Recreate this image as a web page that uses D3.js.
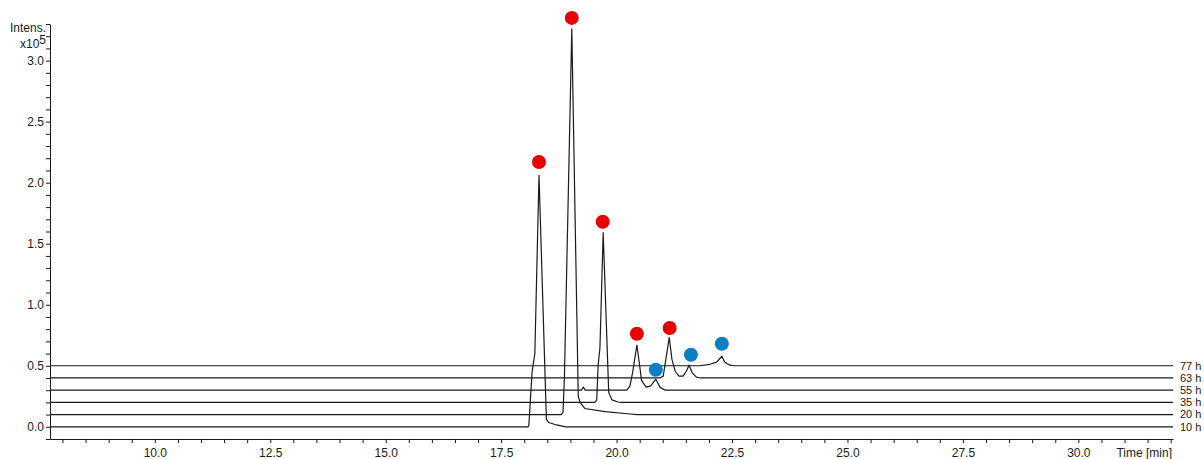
<!DOCTYPE html>
<html>
<head>
<meta charset="utf-8">
<script src="https://cdn.jsdelivr.net/npm/d3@7"></script>
<style>
  html, body { margin: 0; padding: 0; background: #fff; }
  svg { display: block; font-family: "Liberation Sans", Arial, sans-serif; }
</style>
</head>
<body>
<svg id="chart" width="1204" height="459"></svg>
<script>
// ---- data (intensity in units of 1e5, time in min) ----
const traceLabels = ["10 h", "20 h", "35 h", "55 h", "63 h", "77 h"];
const traceOffsets = [0, 0.1, 0.2, 0.3, 0.4, 0.5];

// peak points [time, intensity above the trace's own baseline]
const peaks10h = [[18.08,0],[18.10,0.01],[18.17,0.45],[18.23,0.6],[18.32,2.06],[18.48,0.06],[18.53,0.035],[18.70,0.015],[18.90,0]];
const peaks20h = [[18.80,0],[18.84,0.02],[18.87,0.3],[19.03,3.16],[19.17,0.15],[19.21,0.1],[19.31,0.05],[19.75,0.025],[20.29,0.005],[20.45,0]];
const peaks35h = [[19.53,0],[19.57,0.02],[19.60,0.3],[19.64,0.45],[19.71,1.39],[19.83,0.08],[19.90,0.02],[20.03,0.003],[20.10,0]];
const peaks55h = [[19.24,0],[19.28,0.025],[19.32,0],[20.22,0],[20.29,0.035],[20.35,0.15],[20.44,0.37],[20.50,0.2],[20.54,0.08],[20.64,0.025],[20.74,0.035],[20.85,0.09],[20.94,0.025],[21.05,0]];
const peaks63h = [[20.94,0],[21.01,0.015],[21.07,0.16],[21.14,0.33],[21.20,0.15],[21.27,0.055],[21.35,0.015],[21.44,0.015],[21.51,0.055],[21.57,0.105],[21.64,0.04],[21.73,0.007],[21.82,0]];
const peaks77h = [[21.80,0],[22.02,0.012],[22.17,0.03],[22.28,0.078],[22.34,0.03],[22.45,0.005],[22.56,0]];
const tracePeaks = [peaks10h, peaks20h, peaks35h, peaks55h, peaks63h, peaks77h];

// marker dots [time, absolute intensity]
const redTimes = [18.32, 19.03, 19.70, 20.44, 21.15];
const redIntens = [2.17, 3.35, 1.68, 0.762, 0.81];
const blueTimes = [20.85, 21.61, 22.28];
const blueIntens = [0.467, 0.59, 0.68];

// axes
const timeDomain = [7.73, 32.05];
const intensDomain = [-0.1, 3.3];
const xTickValues = d3.range(16, 65).map(i => i / 2);
const xLabelStep = 2.5;
const yTickValues = d3.range(-1, 34).map(i => i / 10);
const yLabelStep = 0.5;
const xTitle = "Time [min]";
const yTitle = "Intens.";
const yUnitBase = "x10";
const yUnitExp = "5";

// ---- drawing ----
const svg = d3.select("#chart");
const x = d3.scaleLinear().domain(timeDomain).range([50, 1173]);
const y = d3.scaleLinear().domain(intensDomain).range([439, 24]);
const ink = "#1a1a1a";

const isMult = (v, step) => Math.abs(v / step - Math.round(v / step)) < 1e-6;

// traces
const line = d3.line().x(d => x(d[0])).y(d => y(d[1]));
tracePeaks.forEach((pk, i) => {
  const off = traceOffsets[i];
  const pts = [[timeDomain[0], 0], ...pk, [timeDomain[1], 0]].map(p => [p[0], p[1] + off]);
  svg.append("path")
    .attr("d", line(pts))
    .attr("fill", "none")
    .attr("stroke", ink)
    .attr("stroke-width", 1.2)
    .attr("stroke-linejoin", "round");
  svg.append("text")
    .attr("x", x(timeDomain[1]) + 7)
    .attr("y", y(off))
    .attr("dy", "0.35em")
    .attr("font-size", 11)
    .attr("fill", ink)
    .text(traceLabels[i]);
});

// dots
svg.selectAll("circle.red")
  .data(d3.zip(redTimes, redIntens))
  .join("circle")
  .attr("class", "red")
  .attr("cx", d => x(d[0])).attr("cy", d => y(d[1]))
  .attr("r", 7).attr("fill", "#e60000");
svg.selectAll("circle.blue")
  .data(d3.zip(blueTimes, blueIntens))
  .join("circle")
  .attr("class", "blue")
  .attr("cx", d => x(d[0])).attr("cy", d => y(d[1]))
  .attr("r", 7).attr("fill", "#0a7fc4");

// x axis
const xAxis = d3.axisBottom(x)
  .tickValues(xTickValues)
  .tickSize(4).tickSizeOuter(0).tickPadding(5)
  .tickFormat(v => isMult(v, xLabelStep) ? d3.format(".1f")(v) : "");
const gx = svg.append("g").attr("transform", `translate(0,${y(intensDomain[0])})`).call(xAxis);

// y axis
const yAxis = d3.axisLeft(y)
  .tickValues(yTickValues)
  .tickSize(4).tickSizeOuter(0).tickPadding(2)
  .tickFormat(v => (v >= -1e-9 && isMult(v, yLabelStep)) ? d3.format(".1f")(Math.abs(v) < 1e-9 ? 0 : v) : "");
const gy = svg.append("g").attr("transform", `translate(${x(timeDomain[0])},0)`).call(yAxis);

[gx, gy].forEach(g => {
  g.select(".domain").attr("stroke", ink);
  g.selectAll(".tick line").attr("stroke", ink);
  g.selectAll(".tick text").attr("fill", ink)
    .attr("font-size", 12).attr("font-family", "'Liberation Sans', Arial, sans-serif");
});

// titles
svg.append("text")
  .attr("x", x(timeDomain[1]) - 1).attr("y", 457)
  .attr("text-anchor", "end").attr("font-size", 12).attr("fill", ink)
  .text(xTitle);
svg.append("text")
  .attr("x", 46).attr("y", 32)
  .attr("text-anchor", "end").attr("font-size", 12).attr("fill", ink)
  .text(yTitle);
const unit = svg.append("text")
  .attr("x", 46).attr("y", 48)
  .attr("text-anchor", "end").attr("font-size", 12).attr("fill", ink);
unit.append("tspan").text(yUnitBase);
unit.append("tspan").attr("dy", -4).text(yUnitExp);
</script>
</body>
</html>
